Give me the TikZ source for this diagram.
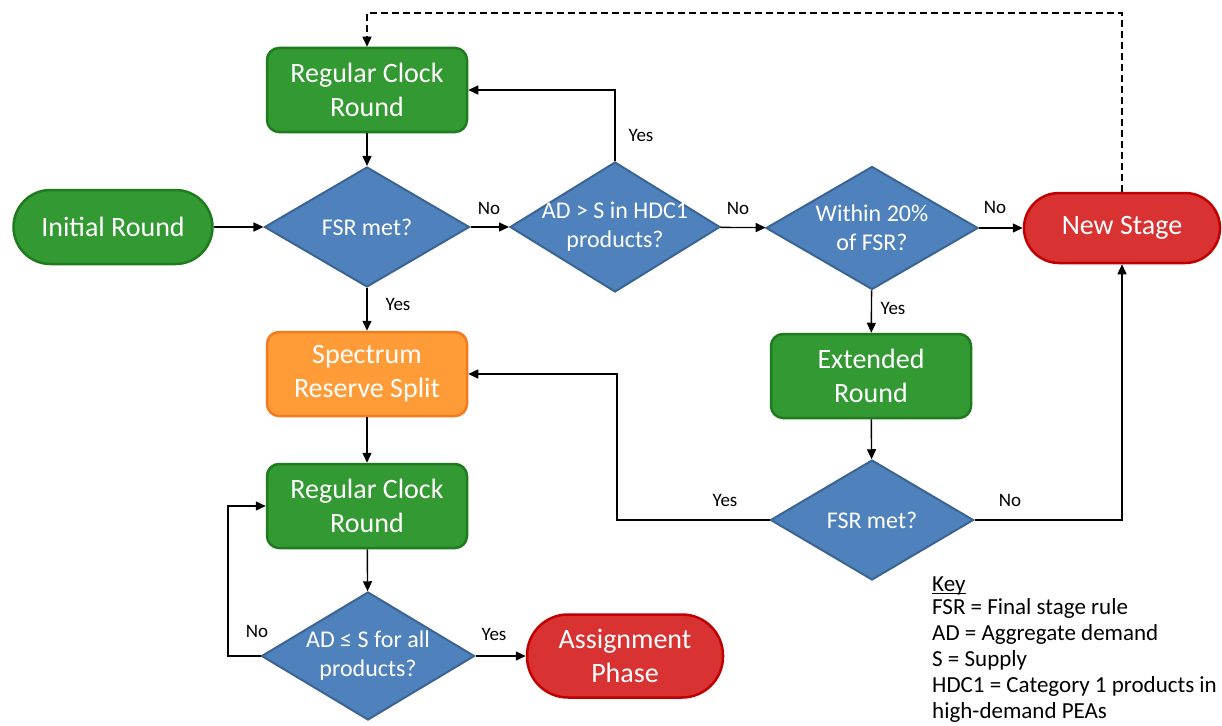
\documentclass[tikz,border=0pt]{standalone}
\usepackage{fontspec}
\setmainfont{Carlito}
\usetikzlibrary{shapes.geometric,arrows.meta}
\definecolor{gfill}{HTML}{339933}
\definecolor{gdraw}{HTML}{1E7B1E}
\definecolor{bfill}{HTML}{4F81BD}
\definecolor{bdraw}{HTML}{3A6593}
\definecolor{ofill}{HTML}{FF9C38}
\definecolor{odraw}{HTML}{F57A1E}
\definecolor{rfill}{HTML}{D83232}
\definecolor{rdraw}{HTML}{C00000}
\begin{document}
\begin{tikzpicture}[x=1pt,y=-1pt,
  boxtext/.style={text=white, font=\fontsize{28}{34}\selectfont, align=center, inner sep=0pt},
  gbox/.style={boxtext, draw=gdraw, fill=gfill, line width=2.5pt, rounded corners=12pt, minimum width=200pt, minimum height=84pt},
  obox/.style={gbox, draw=odraw, fill=ofill},
  gpill/.style={boxtext, draw=gdraw, fill=gfill, line width=2.5pt, rounded corners=37pt, minimum width=199pt, minimum height=74pt},
  rpill/.style={boxtext, draw=rdraw, fill=rfill, line width=2.5pt, minimum width=196pt},
  dia/.style={diamond, draw=bdraw, fill=bfill, line width=2pt, inner sep=0pt},
  diatext/.style={text=white, font=\fontsize{24}{29}\selectfont, align=center, inner sep=0pt},
  lbl/.style={font=\fontsize{19}{22}\selectfont, inner sep=0pt},
  arr/.style={line width=1.4pt, -{Triangle[length=10pt,width=9pt]}},
]
\useasboundingbox (0,0) rectangle (1222,725);
% nodes
\node[gbox] (rcr1) at (367,90) {Regular Clock\\Round};
\node[gpill] (init) at (113,227) {Initial Round};
\node[dia, minimum width=205pt, minimum height=120pt] (fsr1) at (367,227) {};
\node[diatext] (fsr1t) at (fsr1.center) {FSR met?};
\node[dia, minimum width=210pt, minimum height=130pt] (ads) at (615,227) {};
\node[diatext] (adst) at (ads.center) {AD > S in HDC1\\products?};
\node[dia, minimum width=212pt, minimum height=123pt] (win) at (872,228) {};
\node[diatext] (wint) at (win.center) {Within 20\%\\of FSR?};
\node[rpill, minimum height=70pt, rounded corners=35pt] (ns) at (1122,228) {New Stage};
\node[obox] (srs) at (367,374) {Spectrum\\Reserve Split};
\node[gbox] (ext) at (871,376) {Extended\\Round};
\node[dia, minimum width=203pt, minimum height=120pt] (fsr2) at (872,520) {};
\node[diatext] (fsr2t) at (fsr2.center) {FSR met?};
\node[gbox] (rcr2) at (367,506) {Regular Clock\\Round};
\node[dia, minimum width=213pt, minimum height=128pt] (adl) at (368,656) {};
\node[diatext] (adlt) at (adl.center) {AD ≤ S for all\\products?};
\node[rpill, minimum height=83pt, rounded corners=41pt] (ap) at (625,656) {Assignment\\Phase};
\node[font=\fontsize{23}{26}\selectfont, align=left, anchor=north west, inner sep=0pt] (key) at (932,577)
  {\rlap{\rule[-2.5pt]{34pt}{1.2pt}}Key\\[-3pt]FSR = Final stage rule\\AD = Aggregate demand\\S = Supply\\HDC1 = Category 1 products in\\high-demand PEAs};
% coordinates
\coordinate (dtop) at (1122,13);
\coordinate (yesturn) at (617,520);
\coordinate (noturn) at (228,656);
% connectors
\draw[arr, dashed, dash pattern=on 7pt off 4pt] (ns.north) -- (dtop) -| (rcr1.north);
\draw[arr] (rcr1) -- (fsr1);
\draw[arr] (init) -- (fsr1);
\draw[arr] (fsr1) -- (ads);
\draw[arr] (ads.north) |- (rcr1.east);
\draw[arr] (ads) -- (win);
\draw[arr] (win) -- (ns);
\draw[arr] (fsr1) -- (srs);
\draw[arr] (win) -- (ext);
\draw[arr] (ext) -- (fsr2);
\draw[arr] (fsr2.west) -- (yesturn) |- (srs.east);
\draw[arr] (fsr2.east) -| (ns.south);
\draw[arr] (srs) -- (rcr2);
\draw[arr] (rcr2) -- (adl);
\draw[arr] (adl.west) -- (noturn) |- (rcr2.west);
\draw[arr] (adl) -- (ap);
% labels
\node[lbl] (l1) at (489,208) {No};
\node[lbl] (l2) at (641,135) {Yes};
\node[lbl] (l3) at (738,208) {No};
\node[lbl] (l4) at (995,207) {No};
\node[lbl] (l5) at (398,304) {Yes};
\node[lbl] (l6) at (893,308) {Yes};
\node[lbl] (l7) at (725,500) {Yes};
\node[lbl] (l8) at (1010,500) {No};
\node[lbl] (l9) at (257,631) {No};
\node[lbl] (l10) at (494,634) {Yes};
\end{tikzpicture}
\end{document}
